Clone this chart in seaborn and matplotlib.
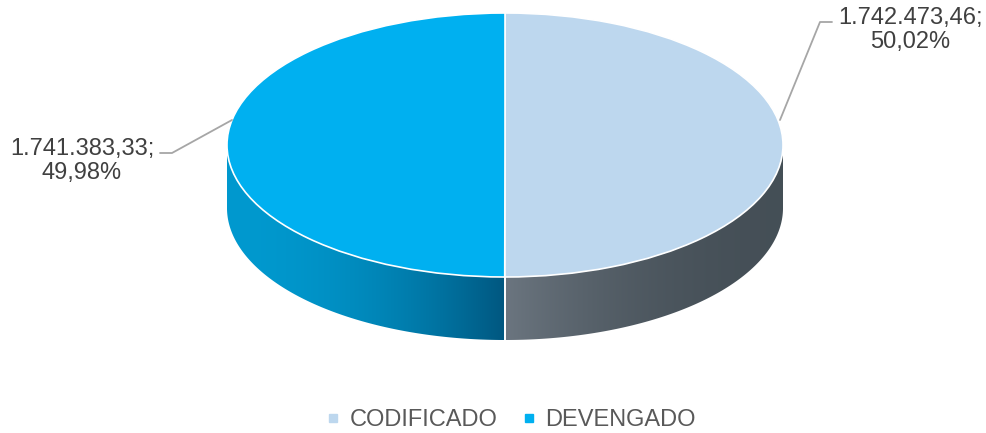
import numpy as np
import matplotlib
matplotlib.use("Agg")
import matplotlib.pyplot as plt
from matplotlib.lines import Line2D
from matplotlib.patches import Polygon
import seaborn as sns

# data
categories = ["CODIFICADO", "DEVENGADO"]
values = [1742473.46, 1741383.33]
top_colors = ["#BDD7EE", "#00B0F0"]
# side shading: (colour at centre seam, colour at outer edge)
side_colors = [((0.42, 0.46, 0.50), (0.27, 0.31, 0.34)),
               ((0.00, 0.34, 0.50), (0.00, 0.60, 0.81))]


def fmt_es(v, dec=2):
    s = f"{v:,.{dec}f}"
    return s.replace(",", "X").replace(".", ",").replace("X", ".")


sns.set_theme(style="white")
plt.rcParams["font.family"] = ["Liberation Sans", "DejaVu Sans"]

W, H = 986, 433
fig = plt.figure(figsize=(W / 100, H / 100), dpi=100)
ax = fig.add_axes([0, 0, 1, 1])

# geometry of the squashed pie (pixels)
cx, cy, rx, ry, depth_px = 505, 145, 278, 132, 63
depth = depth_px / ry

total = sum(values)
fracs = [v / total for v in values]

# side walls (front half only), shaded with a horizontal gradient
start = 90.0
for frac, (c_in, c_out) in zip(fracs, side_colors):
    end = start - frac * 360.0
    lo, hi = min(start, end), max(start, end)
    a0, a1 = max(lo, -180.0), min(hi, 0.0)
    if a0 < a1:
        r = np.radians(np.linspace(a0, a1, 200))
        top = np.column_stack([np.cos(r), np.sin(r)])
        bot = np.column_stack([np.cos(r), np.sin(r) - depth])[::-1]
        poly = Polygon(np.vstack([top, bot]), closed=True, fc="none", ec="none")
        ax.add_patch(poly)
        x0, x1 = np.cos(r).min(), np.cos(r).max()
        xs = np.linspace(x0, x1, 400)
        w = 1 - (1 - np.abs(xs)) ** 2
        grad = np.array([[ci + (co - ci) * wi for ci, co in zip(c_in, c_out)] for wi in w])
        img = ax.imshow(grad[np.newaxis, :, :], extent=(x0, x1, -1 - depth, 0.1),
                        aspect="auto", interpolation="bilinear", zorder=1)
        img.set_clip_path(poly)
    # seam line on the side
    for ang in (start, end):
        rr = np.radians(ang)
        if np.sin(rr) < -0.999:
            ax.plot([np.cos(rr)] * 2, [np.sin(rr), np.sin(rr) - depth],
                    color="white", lw=1.2, zorder=2)
    start = end

# top face
wedges, _ = ax.pie(values, colors=top_colors, startangle=90, counterclock=False,
                   radius=1, center=(0, 0),
                   wedgeprops=dict(edgecolor="white", linewidth=1.2))
for wd in wedges:
    wd.set_zorder(3)

ax.set_aspect("auto")
ax.set_xlim(-cx / rx, (W - cx) / rx)
ax.set_ylim((cy - H) / ry, cy / ry)
ax.axis("off")


def px(x, y):
    return (x - cx) / rx, (cy - y) / ry


labels = [f"{fmt_es(v)};\n{fmt_es(f * 100)}%" for v, f in zip(values, fracs)]

# leader lines
lc = "#A6A6A6"
p = [px(780, 120), px(820, 22), px(832, 22)]
ax.plot(*zip(*p), color=lc, lw=1.3, zorder=4)
p = [px(232, 120), px(172, 153), px(160, 153)]
ax.plot(*zip(*p), color=lc, lw=1.3, zorder=4)

tx, ty = px(910, 30)
ax.text(tx, ty, labels[0], ha="center", va="center", fontsize=17,
        color="#404040", linespacing=1.1, zorder=5)
tx, ty = px(82, 161)
ax.text(tx, ty, labels[1], ha="center", va="center", fontsize=17,
        color="#404040", linespacing=1.1, zorder=5)

handles = [Line2D([], [], ls="none", marker="s", markersize=6,
                  markerfacecolor=c, markeredgecolor=c) for c in top_colors]
fig.legend(handles, categories, loc="lower center", bbox_to_anchor=(0.517, -0.045),
           ncol=2, frameon=False, fontsize=17, labelcolor="#595959",
           handletextpad=0.3, columnspacing=0.9, handlelength=0.8)

fig.savefig("out.png", dpi=100)
